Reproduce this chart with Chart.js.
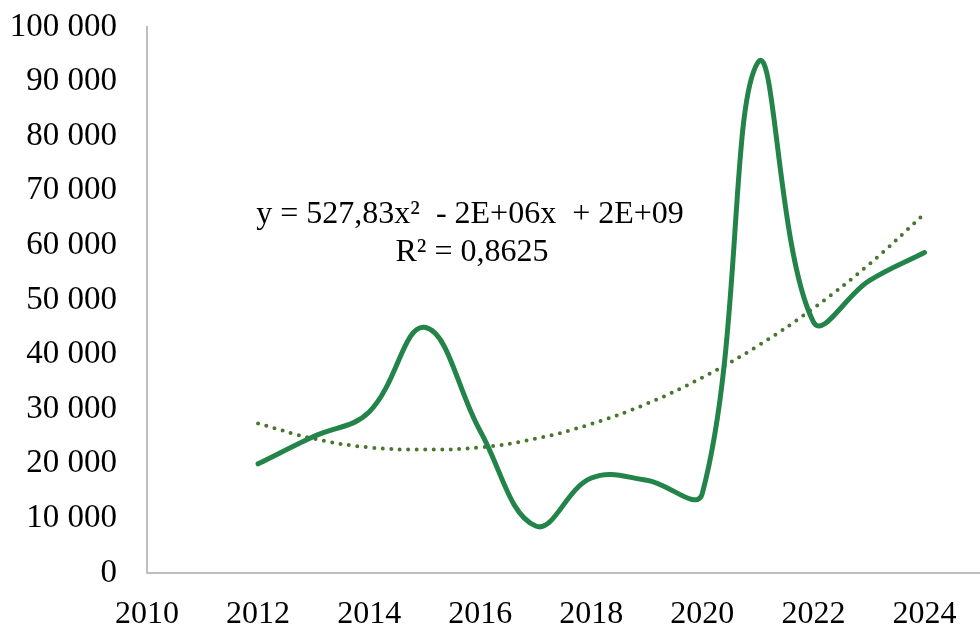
<!DOCTYPE html>
<html lang="en">
<head>
  <meta charset="UTF-8" />
  <title>Trend</title>
  <script src="https://cdn.jsdelivr.net/npm/chart.js"></script>
  <style>
    html, body {
      margin: 0;
      padding: 0;
      background: #ffffff;
    }
    .wrap {
      width: 980px;
      height: 625px;
    }
  </style>
</head>
<body>
  <div class="wrap">
    <canvas id="trendChart" width="980" height="625"></canvas>
  </div>

  <script>
    const years = [2012, 2013, 2014, 2015, 2016, 2017, 2018, 2019, 2020, 2021, 2022, 2023, 2024];
    const values = [20000, 25000, 29500, 45000, 26000, 8600, 17400, 17000, 14600, 93500, 46000, 53500, 58700];
    const trendValues = [27400, 24600, 23000, 22600, 23000, 24600, 27300, 31000, 35800, 41600, 48500, 56500, 65800];
    const xTicks = [2010, 2012, 2014, 2016, 2018, 2020, 2022, 2024];
    const yTicks = [0, 10000, 20000, 30000, 40000, 50000, 60000, 70000, 80000, 90000, 100000];
    const equationLines = ['y = 527,83x\u00B2  - 2E+06x  + 2E+09', 'R\u00B2 = 0,8625'];

    const serif = "'Liberation Serif', 'Times New Roman', serif";

    // thousands with a space, e.g. 100 000
    function fmt(v) {
      return String(v).replace(/\B(?=(\d{3})+(?!\d))/g, ' ');
    }

    // trendline equation text
    const equationPlugin = {
      id: 'equation',
      afterDatasetsDraw(chart) {
        const ctx = chart.ctx;
        ctx.save();
        ctx.font = '32px ' + serif;
        ctx.fillStyle = '#000000';
        ctx.textAlign = 'center';
        ctx.textBaseline = 'middle';
        ctx.fillText(equationLines[0], 470, 215);
        ctx.fillText(equationLines[1], 472, 253);
        ctx.restore();
      }
    };

    new Chart(document.getElementById('trendChart').getContext('2d'), {
      type: 'line',
      data: {
        datasets: [
          {
            label: 'Values',
            data: years.map((y, i) => ({ x: y, y: values[i] })),
            borderColor: '#23844a',
            borderWidth: 5,
            tension: 0.4,
            pointRadius: 0,
            borderCapStyle: 'round',
            borderJoinStyle: 'round'
          },
          {
            label: 'Trend',
            data: years.map((y, i) => ({ x: y, y: trendValues[i] })),
            borderColor: '#48762e',
            borderWidth: 4,
            borderDash: [0, 8.5],
            borderCapStyle: 'round',
            tension: 0.4,
            pointRadius: 0
          }
        ]
      },
      options: {
        responsive: false,
        animation: false,
        layout: { padding: { top: 27, right: 0, left: 0, bottom: 0 } },
        plugins: {
          legend: { display: false },
          tooltip: { enabled: false }
        },
        scales: {
          x: {
            type: 'linear',
            min: 2010,
            max: 2025,
            afterBuildTicks: (scale) => {
              scale.ticks = xTicks.map(v => ({ value: v }));
            },
            afterFit: (scale) => { scale.height = 52; },
            grid: { display: false, drawTicks: false },
            border: { display: true, color: '#bfbfbf', width: 2 },
            ticks: {
              color: '#000000',
              font: { family: serif, size: 32 },
              padding: 22,
              maxRotation: 0,
              autoSkip: false,
              callback: (v) => String(v)
            }
          },
          y: {
            min: 0,
            max: 100000,
            afterBuildTicks: (scale) => {
              scale.ticks = yTicks.map(v => ({ value: v }));
            },
            afterFit: (scale) => {
              scale.width = 147;
              // keep the top of the axis at the layout padding
              scale.paddingTop = 0;
            },
            grid: { display: false, drawTicks: false },
            border: { display: true, color: '#bfbfbf', width: 2 },
            ticks: {
              color: '#000000',
              font: { family: serif, size: 33 },
              padding: 30,
              callback: (v) => fmt(v)
            }
          }
        }
      },
      plugins: [equationPlugin]
    });
  </script>
</body>
</html>
